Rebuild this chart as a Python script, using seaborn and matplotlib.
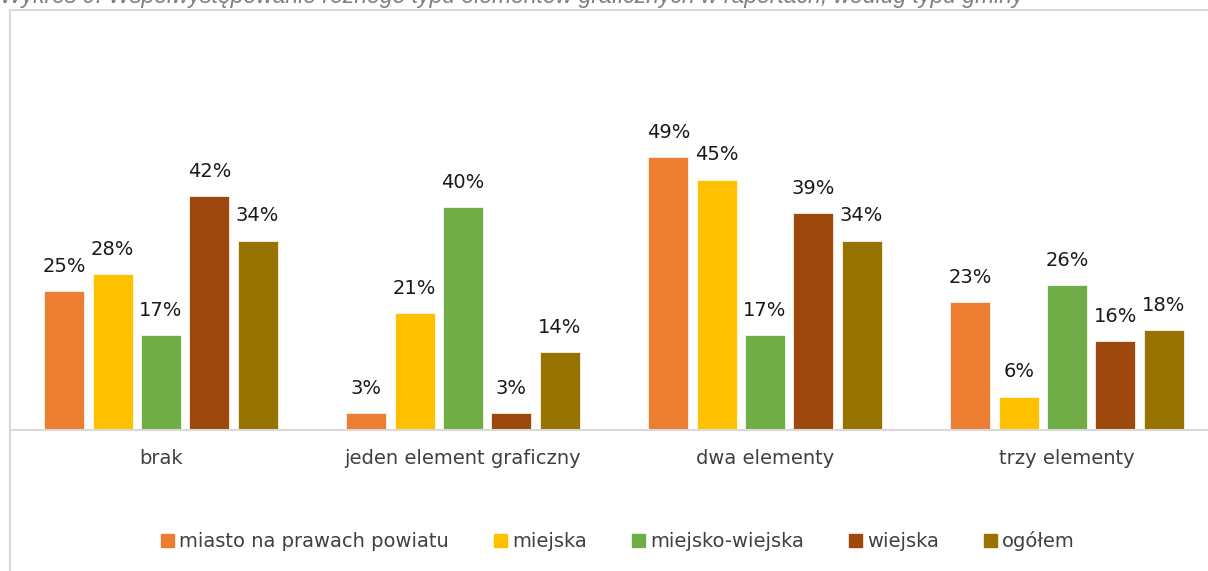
import matplotlib
matplotlib.use("Agg")
import matplotlib.pyplot as plt
import matplotlib.patches as mpatches
import seaborn as sns
import pandas as pd

# Data
categories = ["brak", "jeden element graficzny", "dwa elementy", "trzy elementy"]
series = ["miasto na prawach powiatu", "miejska", "miejsko-wiejska", "wiejska", "ogółem"]
miasto = [25, 3, 49, 23]
miejska = [28, 21, 45, 6]
miejsko_wiejska = [17, 40, 17, 26]
wiejska = [42, 3, 39, 16]
ogolem = [34, 14, 34, 18]
colors = ["#ED7D31", "#FFC000", "#70AD47", "#9E480E", "#997300"]
title = "Wykres 9. Współwystępowanie różnego typu elementów graficznych w raportach, według typu gminy"

values = [miasto, miejska, miejsko_wiejska, wiejska, ogolem]
df = pd.DataFrame({
    "kategoria": [c for s in series for c in categories],
    "typ": [s for s in series for c in categories],
    "wartosc": [v for vals in values for v in vals],
})

sns.set_theme(style="white")
plt.rcParams["font.family"] = ["DejaVu Sans"]

fig = plt.figure(figsize=(12.08, 5.71), dpi=100)
W, H = 1208, 571

# outer frame of the chart
frame = mpatches.Rectangle((10 / W, -0.1), 1.2, (H - 10) / H + 0.1, transform=fig.transFigure,
                           fill=False, edgecolor="#d9d9d9", linewidth=1.5)
fig.patches.append(frame)

# title sits partly above the top edge, as in the source
fig.text(0.0, (H - 3) / H, title, ha="left", va="baseline", fontsize=16.5, style="italic",
         color="#7f7f7f", family=["Liberation Sans Narrow", "Liberation Sans", "DejaVu Sans"])

ax = fig.add_axes([10 / W, 141 / H, 1208 / W, 334 / H])
sns.barplot(data=df, x="kategoria", y="wartosc", hue="typ", order=categories,
            hue_order=series, palette=colors, saturation=1, width=0.8, gap=0.17, ax=ax,
            edgecolor="white", linewidth=0.5, legend=False)

for cont in ax.containers:
    ax.bar_label(cont, fmt="%d%%", padding=11, fontsize=14, color="#1a1a1a")

ax.set_ylim(0, 60)
ax.set_xlim(-0.5, 3.5)
ax.set_xlabel("")
ax.set_ylabel("")
ax.set_yticks([])
ax.tick_params(axis="x", length=0, pad=14, labelsize=14, labelcolor="#404040")
for side in ["top", "right", "left"]:
    ax.spines[side].set_visible(False)
ax.spines["bottom"].set_color("#d9d9d9")
ax.spines["bottom"].set_linewidth(1.5)
ax.patch.set_alpha(0)

handles = [mpatches.Patch(color=c, label=s) for c, s in zip(colors, series)]
fig.legend(handles=handles, loc="center", bbox_to_anchor=(618 / W, (H - 541) / H), ncol=5,
           frameon=False, fontsize=14, handlelength=0.65, handleheight=0.65,
           handletextpad=0.25, columnspacing=2.35, labelcolor="#404040")

fig.savefig("out.png", dpi=100)
